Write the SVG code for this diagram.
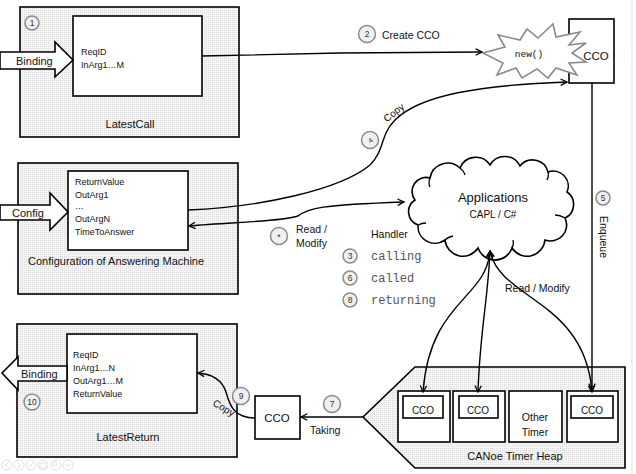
<svg xmlns="http://www.w3.org/2000/svg" width="636" height="474" viewBox="0 0 636 474">
<defs>
<pattern id="dots" width="2" height="2" patternUnits="userSpaceOnUse">
<rect width="2" height="2" fill="#f6f6f6"/>
<rect width="1" height="1" fill="#d9d9d9"/>
</pattern>
<marker id="arr" viewBox="0 0 10 10" refX="9" refY="5" markerWidth="8" markerHeight="8" markerUnits="userSpaceOnUse" orient="auto-start-reverse">
<path d="M1,1 L9,5 L1,9" fill="none" stroke="#000" stroke-width="1.6"/>
</marker>
<style>
.outer{fill:url(#dots);stroke:#000;stroke-width:1.6}
.box{fill:#fff;stroke:#000;stroke-width:1.6}
.t{font-family:"Liberation Sans",Arial,sans-serif;font-size:11px;fill:#111}
.s{font-family:"Liberation Sans",Arial,sans-serif;font-size:9px;fill:#111}
.m{font-family:"Liberation Mono","Courier New",monospace;font-size:12px;fill:#555}
.num circle{fill:#f0f0f0;stroke:#8a8a8a;stroke-width:1.5}
.num text{font-family:"Liberation Sans",Arial,sans-serif;font-size:8.5px;fill:#333;text-anchor:middle}
.c{text-anchor:middle}
.ln{fill:none;stroke:#000;stroke-width:1.4}
.icon{fill:none;stroke:#e2e2e2;stroke-width:1}
</style>
</defs>
<rect width="636" height="474" fill="#fff"/>
<line x1="632" y1="0" x2="632" y2="474" stroke="#e4e4e4" stroke-width="1"/>

<g id="latestCall">
<rect class="outer" x="20" y="7" width="219" height="130"/>
<rect class="box" x="73" y="16" width="129" height="80"/>
<text class="s" x="81" y="55">ReqID</text>
<text class="s" x="81" y="68">InArg1…M</text>
<text class="t c" x="130" y="128">LatestCall</text>
<polygon points="0,52 55,52 55,42 73,60 55,77 55,69 0,69" fill="#fff" stroke="#000" stroke-width="1.6"/>
<text class="t" x="16" y="65">Binding</text>
<g class="num"><circle cx="32" cy="23" r="7"/><text x="32" y="26">1</text></g>
</g>

<g id="config">
<rect class="outer" x="18" y="163" width="220" height="131"/>
<rect class="box" x="68" y="171" width="120" height="79"/>
<text class="s" x="75" y="185">ReturnValue</text>
<text class="s" x="75" y="198">OutArg1</text>
<text class="s" x="75" y="209">…</text>
<text class="s" x="75" y="222">OutArgN</text>
<text class="s" x="75" y="235">TimeToAnswer</text>
<text class="t" x="28" y="265">Configuration of Answering Machine</text>
<polygon points="0,205 50,205 50,193 68,212 50,230 50,220 0,220" fill="#fff" stroke="#000" stroke-width="1.6"/>
<text class="t" x="12" y="217">Config</text>
</g>

<g id="latestReturn">
<rect class="outer" x="17" y="324" width="220" height="133"/>
<rect class="box" x="67" y="334" width="130" height="79"/>
<text class="s" x="73" y="358">ReqID</text>
<text class="s" x="73" y="371">InArg1…N</text>
<text class="s" x="73" y="384">OutArg1…M</text>
<text class="s" x="73" y="397">ReturnValue</text>
<text class="t c" x="128" y="441">LatestReturn</text>
<polygon points="67,366 18,366 18,357 2,373 18,390 18,381 67,381" fill="#fff" stroke="#000" stroke-width="1.6"/>
<text class="t" x="21" y="378">Binding</text>
<g class="num"><circle cx="32" cy="402" r="8"/><text x="32" y="405">10</text></g>
</g>

<g id="ccoTop">
<rect class="box" x="569" y="19" width="45" height="64"/>
<text class="t c" x="596" y="60" style="font-size:11.5px">CCO</text>
</g>

<g id="newBurst">
<polygon points="483,53 505,47 498,35 520,40 527,29 538,38 553,24 556,37 580,32 569,45 586,43 572,53 586,62 569,63 577,75 556,68 548,78 537,69 522,78 516,68 497,75 503,63" fill="#fff" stroke="#8a8a8a" stroke-width="1.6" stroke-linejoin="miter"/>
<text x="529" y="57" text-anchor="middle" style="font-family:'Liberation Mono','Courier New',monospace;font-size:9.5px;fill:#111">new()</text>
</g>

<g id="applications">
<path d="M415,200 A14,14 0 0 1 430,178 A18,18 0 0 1 460,168 A17,17 0 0 1 490,165 A17,17 0 0 1 520,166 A16,16 0 0 1 548,172 A15,15 0 0 1 567,192 A15,15 0 0 1 565,218 A16,16 0 0 1 545,240 A18,18 0 0 1 512,248 A18,18 0 0 1 478,248 A18,18 0 0 1 445,240 A17,17 0 0 1 418,225 A14,14 0 0 1 415,200 Z" fill="#fff" stroke="#000" stroke-width="1.6"/>
<path d="M430,178 q-2,5 0,9 M460,168 q4,3 5,7 M548,172 q1,4 -1,8 M565,218 q-5,-3 -10,-3 M512,248 q2,-4 1,-8 M445,240 q3,-3 8,-4 M418,225 q4,-2 8,-2" fill="none" stroke="#000" stroke-width="1.3"/>
<text class="c" x="493" y="202" style="font-family:'Liberation Sans',Arial,sans-serif;font-size:13px;fill:#111">Applications</text>
<text class="c" x="493" y="218" style="font-family:'Liberation Sans',Arial,sans-serif;font-size:10px;fill:#111">CAPL / C#</text>
</g>

<g id="timerHeap">
<polygon points="415,367 625,367 625,468 415,468 363,417" fill="url(#dots)" stroke="#000" stroke-width="1.6"/>
<text class="t c" x="515" y="460">CANoe Timer Heap</text>
<g id="timer1">
<rect class="box" x="398" y="391" width="52" height="51"/>
<rect class="box" x="403" y="396" width="40" height="22"/>
<text class="t c" x="423" y="414" style="font-size:10px">CCO</text>
</g>
<g id="timer2">
<rect class="box" x="453" y="391" width="52" height="51"/>
<rect class="box" x="459" y="396" width="39" height="22"/>
<text class="t c" x="478" y="414" style="font-size:10px">CCO</text>
</g>
<g id="timer3">
<rect class="box" x="509" y="391" width="53" height="51"/>
<text class="t c" x="535" y="421" style="font-size:10.5px">Other</text>
<text class="t c" x="535" y="436" style="font-size:10.5px">Timer</text>
</g>
<g id="timer4">
<rect class="box" x="567" y="391" width="51" height="51"/>
<rect class="box" x="571" y="396" width="42" height="22"/>
<text class="t c" x="592" y="414" style="font-size:10px">CCO</text>
</g>
</g>

<g id="ccoBottom">
<rect class="box" x="255" y="396" width="45" height="43"/>
<text class="t c" x="277" y="422" style="font-size:11.5px">CCO</text>
</g>

<g id="connectors">
<path class="ln" d="M202,56 L340,53 L482,52" marker-end="url(#arr)"/>
<path class="ln" d="M188,210 C260,207 340,190 370,165 C385,150 380,135 395,120 C420,95 480,85 567,82" marker-end="url(#arr)"/>
<path class="ln" d="M189,226 C230,222 280,222 298,216 C308,208 320,205 404,202" marker-start="url(#arr)" marker-end="url(#arr)"/>
<path class="ln" d="M592,83 L592,390" marker-end="url(#arr)"/>
<path class="ln" d="M490,251 C486,300 430,300 423,392" marker-start="url(#arr)" marker-end="url(#arr)"/>
<path class="ln" d="M490,251 C488,300 480,330 478,392" marker-start="url(#arr)" marker-end="url(#arr)"/>
<path class="ln" d="M490,251 C500,300 585,300 592,392" marker-start="url(#arr)" marker-end="url(#arr)"/>
<path class="ln" d="M363,417 L301,417" marker-end="url(#arr)"/>
<path class="ln" d="M255,418 C232,418 229,402 226,392 C222,380 212,374 198,373" marker-end="url(#arr)"/>
</g>

<g id="labels">
<g class="num"><circle cx="367" cy="34" r="8.5"/><text x="367" y="37">2</text></g>
<text class="t" x="382" y="39" style="font-size:10.5px">Create CCO</text>
<g class="num"><circle cx="370" cy="140" r="8.5"/><text x="370" y="143" transform="rotate(-40 370 140)" style="font-size:7px">4</text></g>
<text class="t" transform="translate(388,124) rotate(-38)" x="0" y="-2" style="font-size:10px">Copy</text>
<g class="num"><circle cx="279" cy="236" r="8.5"/><text x="279" y="240">*</text></g>
<text class="t" x="296" y="233" style="font-size:10.5px">Read /</text>
<text class="t" x="296" y="247" style="font-size:10.5px">Modify</text>
<text class="t" x="371" y="238" style="font-size:10.5px">Handler</text>
<g class="num"><circle cx="350" cy="256" r="7"/><text x="350" y="259">3</text></g>
<g class="num"><circle cx="350" cy="278" r="7"/><text x="350" y="281">6</text></g>
<g class="num"><circle cx="350" cy="300" r="7"/><text x="350" y="303">8</text></g>
<text class="m" x="371" y="260">calling</text>
<text class="m" x="371" y="282">called</text>
<text class="m" x="371" y="304">returning</text>
<text class="t" x="505" y="292" style="font-size:10.5px">Read / Modify</text>
<g class="num"><circle cx="603" cy="198" r="7"/><text x="603" y="201">5</text></g>
<text class="t c" transform="translate(600,237) rotate(90)" x="0" y="0" style="font-size:10.5px">Enqueue</text>
<g class="num"><circle cx="332" cy="404" r="8.5"/><text x="332" y="407">7</text></g>
<text class="t" x="310" y="434" style="font-size:10.5px">Taking</text>
<g class="num"><circle cx="241" cy="396" r="8.5"/><text x="241" y="399">9</text></g>
<text class="t" transform="translate(212,405) rotate(30)" x="0" y="0" style="font-size:10px">Copy</text>
</g>

<g id="viewerIcons">
<circle class="icon" cx="7" cy="465" r="5"/><path class="icon" d="M9,462 L5,465 L9,468"/>
<circle class="icon" cx="19" cy="465" r="5"/><path class="icon" d="M17,462 L21,465 L17,468"/>
<circle class="icon" cx="31" cy="465" r="5"/><path class="icon" d="M28,468 L34,462"/>
<circle class="icon" cx="43" cy="465" r="5"/><rect class="icon" x="40" y="463" width="6" height="5"/>
<circle class="icon" cx="56" cy="465" r="5"/><circle class="icon" cx="55" cy="464" r="2"/>
<circle class="icon" cx="68" cy="465" r="5"/><path class="icon" d="M65,465 L71,465"/>
</g>
</svg>
